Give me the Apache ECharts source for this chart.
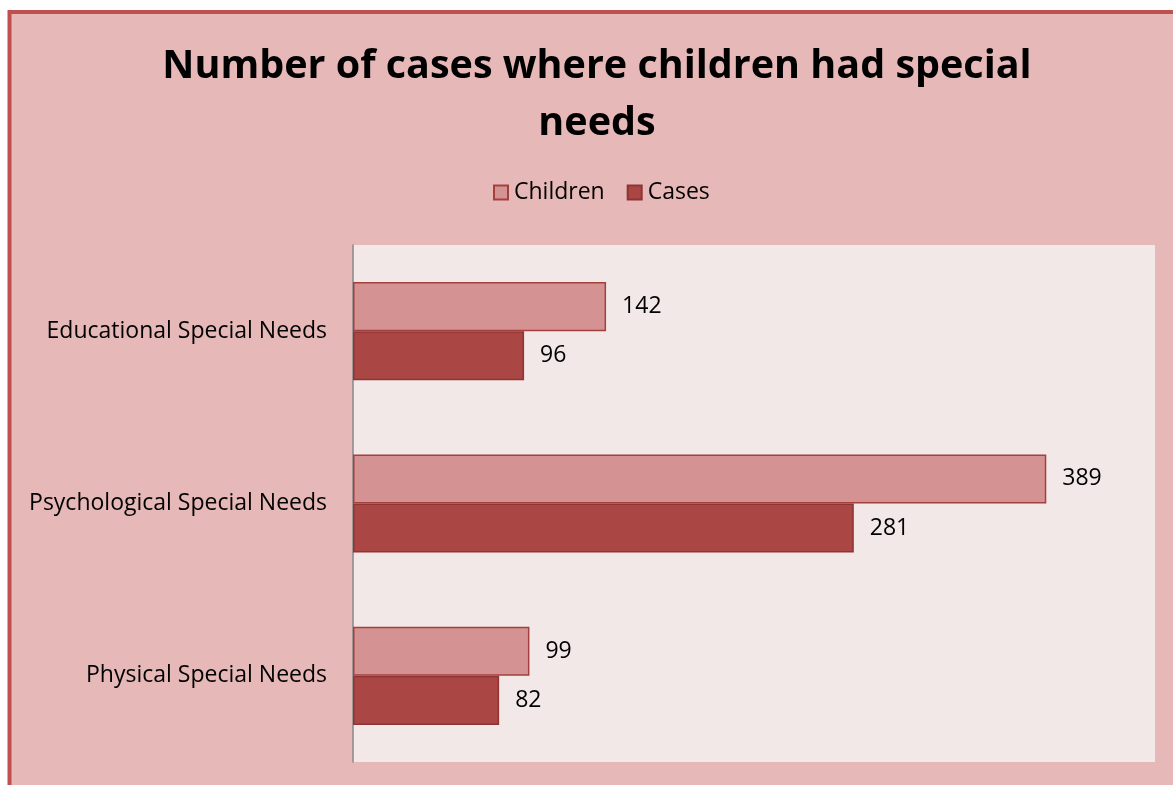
<!DOCTYPE html>
<html>
<head>
<meta charset="utf-8">
<script src="https://cdn.jsdelivr.net/npm/echarts@6/dist/echarts.min.js"></script>
<style>
  html, body { margin: 0; padding: 0; background: #ffffff; }
  #chart { width: 1173px; height: 785px; }
</style>
</head>
<body>
<div id="chart"></div>
<script>
// Categories listed top to bottom
const categories = ['Educational Special Needs', 'Psychological Special Needs', 'Physical Special Needs'];
const children = [142, 389, 99];
const cases = [96, 281, 82];
const seriesNames = ['Children', 'Cases'];

const FONT = '"Open Sans", "Liberation Sans", sans-serif';

const chart = echarts.init(document.getElementById('chart'), null, { renderer: 'canvas' });

const labelStyle = {
  show: true,
  position: 'right',
  distance: 16,
  color: '#000000',
  fontFamily: FONT,
  fontSize: 23
};

chart.setOption({
  backgroundColor: '#ffffff',
  animation: false,
  graphic: [{
    type: 'rect',
    z: -10,
    silent: true,
    shape: { x: 9.5, y: 12, width: 1200, height: 800 },
    style: { fill: '#E6B8B7', stroke: '#C0504D', lineWidth: 4 }
  }],
  title: {
    text: 'Number of cases where children had special\nneeds',
    left: 592,
    textAlign: 'center',
    top: 33,
    textStyle: {
      fontFamily: FONT,
      fontWeight: 'bold',
      fontSize: 39.5,
      lineHeight: 57,
      color: '#000000'
    }
  },
  legend: {
    data: seriesNames,
    left: 488,
    top: 176,
    itemWidth: 14,
    itemHeight: 14,
    itemGap: 22,
    icon: 'rect',
    textStyle: { fontFamily: FONT, fontSize: 23, color: '#000000', padding: [0, 0, 0, 1] }
  },
  grid: {
    left: 353,
    top: 245,
    right: 18,
    bottom: 23,
    show: true,
    backgroundColor: '#F2E8E8',
    borderWidth: 0,
    containLabel: false
  },
  xAxis: {
    type: 'value',
    min: 0,
    max: 450,
    show: false,
    splitLine: { show: false }
  },
  yAxis: {
    type: 'category',
    data: categories,
    inverse: true,
    axisLine: { show: true, lineStyle: { color: '#888888', width: 1.5 } },
    axisTick: { show: false },
    axisLabel: {
      color: '#000000',
      fontFamily: FONT,
      fontSize: 23,
      margin: 26
    }
  },
  series: [
    {
      name: seriesNames[0],
      type: 'bar',
      data: children,
      barGap: '0%',
      barCategoryGap: '43%',
      itemStyle: { color: '#D49392', borderColor: '#A3403E', borderWidth: 1.5 },
      label: labelStyle
    },
    {
      name: seriesNames[1],
      type: 'bar',
      data: cases,
      barGap: '0%',
      barCategoryGap: '43%',
      itemStyle: { color: '#AA4644', borderColor: '#8E3533', borderWidth: 1.5 },
      label: labelStyle
    }
  ]
});
</script>
</body>
</html>
